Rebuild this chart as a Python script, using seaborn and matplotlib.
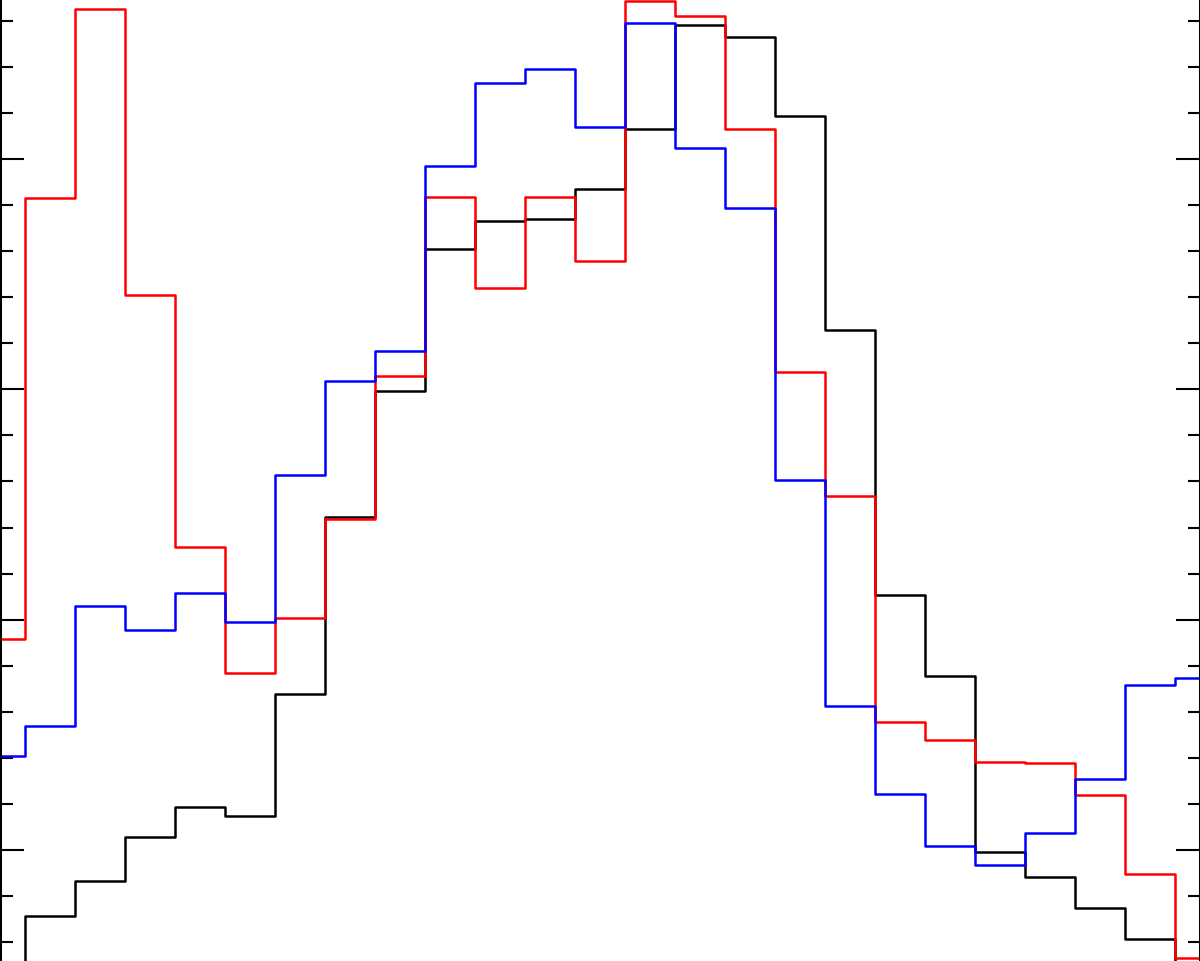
import numpy as np
import pandas as pd
import matplotlib
matplotlib.use("Agg")
import matplotlib.pyplot as plt
from matplotlib.ticker import MultipleLocator, NullFormatter
import seaborn as sns

# bin index (x positions)
bins = list(range(25))

black_vals = [4.0, 7.13, 8.65, 10.56, 11.87, 11.48, 16.77, 24.46, 29.93, 36.10,
              37.31, 37.40, 38.70, 41.31, 45.82, 45.30, 41.87, 32.58, 21.07, 17.56,
              9.91, 8.83, 7.48, 6.14, 4.0]
red_vals = [19.16, 38.31, 46.52, 34.10, 23.16, 17.69, 20.07, 24.37, 30.58, 38.35,
            34.40, 38.35, 35.58, 46.87, 46.21, 41.31, 30.76, 25.37, 15.56, 14.78,
            13.82, 13.78, 12.39, 8.96, 5.31]
blue_vals = [14.08, 15.38, 20.59, 19.55, 21.16, 19.90, 26.28, 30.36, 31.67, 39.70,
             43.30, 43.91, 41.39, 45.91, 40.48, 37.88, 26.07, 16.25, 12.43, 10.17,
             9.35, 10.74, 13.08, 17.16, 17.47]

series_names = ["black", "red", "blue"]
series_colors = {"black": "#000000", "red": "#ff0000", "blue": "#0000ff"}

df = pd.concat([
    pd.DataFrame({"bin": bins, "value": v, "series": n})
    for n, v in zip(series_names, [black_vals, red_vals, blue_vals])
], ignore_index=True)

sns.set_style("white")
fig = plt.figure(figsize=(12, 9.62), dpi=100)
ax = fig.add_axes([0, 0, 1, 1])

for name in series_names:
    sub = df[df["series"] == name]
    sns.lineplot(data=sub, x="bin", y="value", ax=ax, color=series_colors[name],
                 drawstyle="steps-mid", linewidth=1.8, estimator=None, sort=False,
                 legend=False)

ax.set_xlim(0, 24)
ax.set_ylim(5.18, 46.95)
ax.yaxis.set_major_locator(MultipleLocator(10))
ax.yaxis.set_minor_locator(MultipleLocator(2))
ax.yaxis.set_major_formatter(NullFormatter())
ax.tick_params(axis="y", which="major", direction="in", length=17.5, width=1.5,
               left=True, right=True, labelleft=False, labelright=False, color="black")
ax.tick_params(axis="y", which="minor", direction="in", length=9, width=1.5,
               left=True, right=True, color="black")
ax.tick_params(axis="x", which="both", bottom=False, top=False, labelbottom=False)
ax.set_xlabel("")
ax.set_ylabel("")

for side in ["top", "bottom"]:
    ax.spines[side].set_visible(False)
for side in ["left", "right"]:
    ax.spines[side].set_visible(True)
    ax.spines[side].set_color("black")
    ax.spines[side].set_linewidth(2.2)

fig.savefig("out.png", dpi=100)
